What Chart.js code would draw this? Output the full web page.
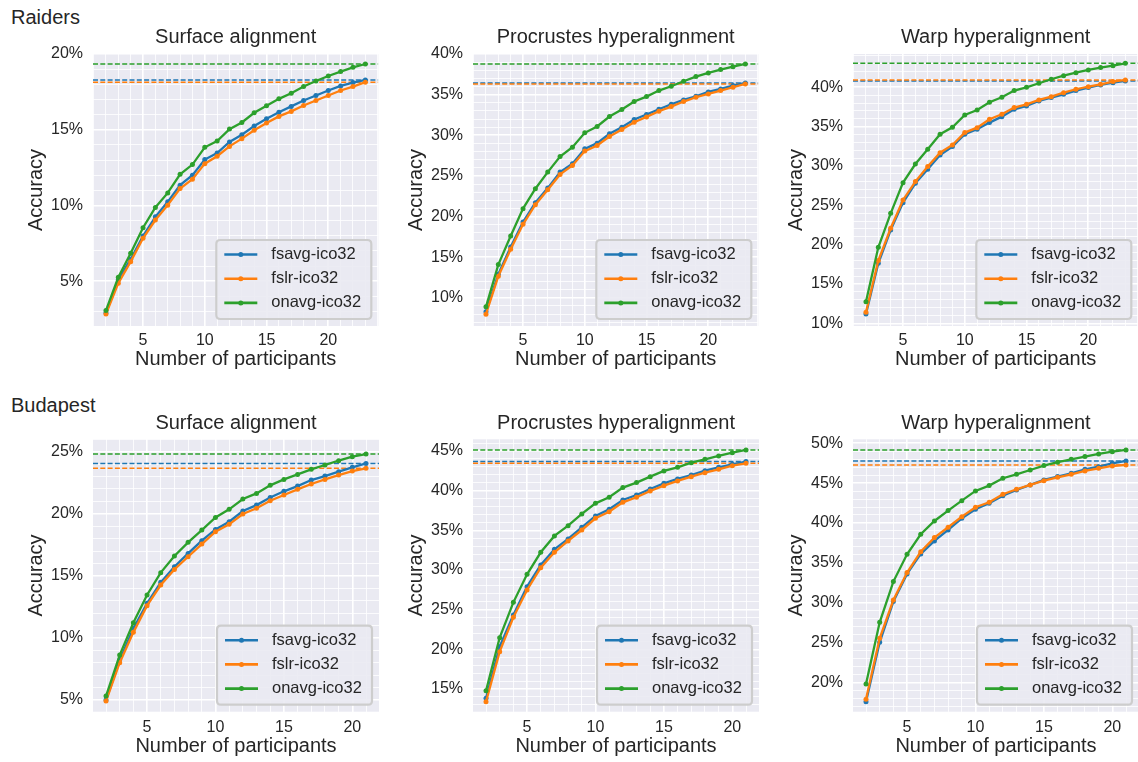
<!DOCTYPE html>
<html>
<head>
<meta charset="utf-8">
<script src="https://cdn.jsdelivr.net/npm/chart.js@4.4.1/dist/chart.umd.min.js"></script>
<style>
html,body{margin:0;padding:0;background:#ffffff;width:1138px;height:762px;overflow:hidden;position:relative}
.row-label{position:absolute;font-family:"Liberation Sans",Arial,sans-serif;font-size:20px;line-height:20px;color:#262626;white-space:nowrap}
</style>
</head>
<body>
<div class="row-label" style="left:11px;top:7px">Raiders</div>
<div class="row-label" style="left:11px;top:395px">Budapest</div>
<script>
// ---------------- DATA ----------------
const seriesNames = ['fsavg-ico32', 'fslr-ico32', 'onavg-ico32'];
const panelTitles = ['Surface alignment', 'Procrustes hyperalignment', 'Warp hyperalignment'];

const raidersParticipants = [2,3,4,5,6,7,8,9,10,11,12,13,14,15,16,17,18,19,20,21,22,23];
const budapestParticipants = [2,3,4,5,6,7,8,9,10,11,12,13,14,15,16,17,18,19,20,21];

const xTicks = [5, 10, 15, 20];

// Raiders - Surface alignment
const raidersSurfaceFsavg = [2.90,5.09,6.45,7.98,9.25,10.24,11.34,12.00,13.03,13.46,14.19,14.67,15.24,15.72,16.16,16.54,16.93,17.26,17.59,17.89,18.11,18.29];
const raidersSurfaceFslr  = [2.83,4.87,6.29,7.83,9.04,10.02,11.12,11.73,12.76,13.25,13.90,14.41,14.96,15.44,15.88,16.21,16.60,16.93,17.26,17.59,17.85,18.14];
const raidersSurfaceOnavg = [3.07,5.26,6.84,8.53,9.87,10.83,12.06,12.70,13.84,14.25,15.04,15.48,16.12,16.58,17.04,17.41,17.85,18.22,18.55,18.84,19.12,19.34];
const raidersSurfaceYTicks = [5, 10, 15, 20];

// Raiders - Procrustes hyperalignment
const raidersProcFsavg = [8.28,12.90,16.26,19.33,21.70,23.50,25.47,26.49,28.33,29.03,30.18,30.99,31.94,32.55,33.20,33.82,34.35,34.80,35.33,35.70,36.11,36.44];
const raidersProcFslr  = [7.99,12.66,15.97,19.04,21.46,23.30,25.18,26.29,28.05,28.74,29.85,30.71,31.61,32.26,32.96,33.53,34.15,34.68,35.09,35.50,35.91,36.32];
const raidersProcOnavg = [8.89,14.09,17.61,20.97,23.42,25.47,27.39,28.54,30.30,31.08,32.30,33.16,34.15,34.76,35.50,36.03,36.64,37.22,37.67,38.08,38.44,38.77];
const raidersProcYTicks = [10, 15, 20, 25, 30, 35, 40];

// Raiders - Warp hyperalignment
const raidersWarpFsavg = [11.19,17.63,21.86,25.34,27.80,29.58,31.40,32.46,34.03,34.66,35.51,36.27,37.20,37.63,38.26,38.69,39.11,39.58,39.96,40.30,40.59,40.81];
const raidersWarpFslr  = [11.40,17.97,22.08,25.68,28.01,29.92,31.69,32.67,34.24,34.87,35.93,36.57,37.42,37.84,38.39,38.81,39.32,39.75,40.08,40.38,40.72,40.93];
const raidersWarpOnavg = [12.75,19.66,23.98,27.88,30.25,32.12,34.03,34.92,36.48,37.12,38.09,38.73,39.58,40.00,40.51,41.02,41.48,41.86,42.20,42.50,42.75,43.05];
const raidersWarpYTicks = [10, 15, 20, 25, 30, 35, 40];

// Budapest - Surface alignment
const budapestSurfaceFsavg = [5.00,8.22,10.77,12.79,14.48,15.74,16.81,17.83,18.74,19.36,20.22,20.70,21.32,21.81,22.23,22.72,23.04,23.39,23.74,24.06];
const budapestSurfaceFslr  = [4.92,8.01,10.45,12.60,14.26,15.52,16.54,17.56,18.56,19.15,19.98,20.44,21.05,21.51,21.97,22.40,22.77,23.12,23.44,23.66];
const budapestSurfaceOnavg = [5.32,8.62,11.23,13.46,15.26,16.60,17.70,18.69,19.71,20.36,21.19,21.64,22.29,22.77,23.17,23.58,23.93,24.28,24.60,24.81];
const budapestSurfaceYTicks = [5, 10, 15, 20, 25];

// Budapest - Procrustes hyperalignment
const budapestProcFsavg = [13.82,20.34,24.33,27.90,30.63,32.61,33.91,35.38,36.81,37.65,38.82,39.45,40.21,40.92,41.47,41.97,42.52,42.94,43.32,43.66];
const budapestProcFslr  = [13.40,19.71,24.03,27.48,30.29,32.23,33.66,35.04,36.51,37.35,38.53,39.16,39.96,40.63,41.22,41.76,42.27,42.69,43.15,43.45];
const budapestProcOnavg = [14.79,21.47,25.92,29.45,32.23,34.29,35.59,37.06,38.40,39.16,40.38,41.01,41.76,42.48,42.94,43.53,43.95,44.37,44.79,45.13];
const budapestProcYTicks = [15, 20, 25, 30, 35, 40, 45];

// Budapest - Warp hyperalignment
const budapestWarpFsavg = [17.57,25.02,30.13,33.60,36.11,37.74,39.12,40.59,41.72,42.47,43.43,44.14,44.77,45.40,45.82,46.23,46.74,47.07,47.49,47.78];
const budapestWarpFslr  = [17.87,25.52,30.33,33.77,36.40,38.16,39.46,40.79,41.97,42.59,43.60,44.23,44.77,45.31,45.73,46.11,46.53,46.86,47.15,47.28];
const budapestWarpOnavg = [19.79,27.53,32.64,36.07,38.58,40.25,41.55,42.80,44.02,44.69,45.61,46.11,46.65,47.20,47.62,47.99,48.33,48.66,48.95,49.16];
const budapestWarpYTicks = [20, 25, 30, 35, 40, 45, 50];

// ---------------- STYLE ----------------
const FONT = '"Liberation Sans", Arial, sans-serif';
const TEXT = '#262626';
const COLORS = ['#1f77b4', '#ff7f0e', '#2ca02c'];
const BG = '#EAEAF2';
Chart.defaults.font.family = FONT;
Chart.defaults.color = TEXT;

const rowLayout = [
  { top: 0,   height: 380, titlePad: {top: 25.2, bottom: 4.8}, xAxisH: 54,   xTickPad: 5.3, xTitlePadB: 9 },
  { top: 380, height: 382, titlePad: {top: 31.8, bottom: 3.5}, xAxisH: 50.3, xTickPad: 5.9, xTitlePadB: 3.6 }
];

const bgPlugin = {
  id: 'plotBg',
  beforeDraw(chart) {
    const {ctx, chartArea: a} = chart;
    ctx.save();
    ctx.fillStyle = BG;
    ctx.fillRect(a.left, a.top, a.right - a.left, a.bottom - a.top);
    ctx.restore();
  }
};

const legendPlugin = {
  id: 'insideLegend',
  afterDatasetsDraw(chart) {
    const {ctx, chartArea: a} = chart;
    const w = 155, h = 79, inset = 7, r = 4;
    const x0 = a.right - inset - w, y0 = a.bottom - inset - h;
    ctx.save();
    ctx.beginPath();
    ctx.moveTo(x0 + r, y0);
    ctx.lineTo(x0 + w - r, y0); ctx.quadraticCurveTo(x0 + w, y0, x0 + w, y0 + r);
    ctx.lineTo(x0 + w, y0 + h - r); ctx.quadraticCurveTo(x0 + w, y0 + h, x0 + w - r, y0 + h);
    ctx.lineTo(x0 + r, y0 + h); ctx.quadraticCurveTo(x0, y0 + h, x0, y0 + h - r);
    ctx.lineTo(x0, y0 + r); ctx.quadraticCurveTo(x0, y0, x0 + r, y0);
    ctx.closePath();
    ctx.fillStyle = 'rgba(234,234,242,0.9)';
    ctx.fill();
    ctx.lineWidth = 2.2;
    ctx.strokeStyle = '#cdcdcd';
    ctx.stroke();
    const items = chart.data.datasets.filter(d => d.inLegend);
    items.forEach((d, i) => {
      const y = y0 + 14.5 + i * 24.2;
      ctx.strokeStyle = d.borderColor;
      ctx.lineWidth = 2.6;
      ctx.beginPath(); ctx.moveTo(x0 + 8, y); ctx.lineTo(x0 + 41, y); ctx.stroke();
      ctx.fillStyle = d.borderColor;
      ctx.beginPath(); ctx.arc(x0 + 24.5, y, 2.5, 0, Math.PI * 2); ctx.fill();
      ctx.fillStyle = TEXT;
      ctx.font = '16.5px ' + FONT;
      ctx.textBaseline = 'middle';
      ctx.textAlign = 'left';
      ctx.fillText(d.label, x0 + 55, y);
    });
    ctx.restore();
  }
};

function integerTicks(scale) {
  const t = [];
  for (let v = Math.ceil(scale.min - 1e-9); v <= Math.floor(scale.max + 1e-9); v++) t.push({value: v});
  scale.ticks = t;
}

function makePanel(row, col, title, xs, seriesList, xRange, yRange, yTicks) {
  const L = rowLayout[row];
  const canvas = document.createElement('canvas');
  const W = 383, H = L.height;
  canvas.width = W; canvas.height = H;
  canvas.style.cssText = `position:absolute;left:${col * 380}px;top:${L.top}px;width:${W}px;height:${H}px`;
  document.body.appendChild(canvas);

  const datasets = [];
  seriesList.forEach((vals, i) => {
    datasets.push({
      label: seriesNames[i],
      inLegend: true,
      data: xs.map((x, k) => ({x: x, y: vals[k]})),
      borderColor: COLORS[i],
      backgroundColor: COLORS[i],
      pointBackgroundColor: COLORS[i],
      borderWidth: 2.3,
      pointRadius: 2.5,
      pointBorderWidth: 0,
      tension: 0,
      order: 10 - i
    });
  });
  seriesList.forEach((vals, i) => {
    const last = vals[vals.length - 1];
    datasets.push({
      label: seriesNames[i] + ' final',
      inLegend: false,
      data: [{x: xRange[0], y: last}, {x: xRange[1], y: last}],
      borderColor: COLORS[i],
      borderWidth: 1.5,
      borderDash: [5, 2.3],
      pointRadius: 0,
      tension: 0,
      order: 20 - i
    });
  });

  new Chart(canvas, {
    type: 'line',
    data: { datasets },
    plugins: [bgPlugin, legendPlugin],
    options: {
      responsive: false,
      animation: false,
      events: [],
      devicePixelRatio: 1,
      layout: { padding: 0 },
      plugins: {
        legend: { display: false },
        tooltip: { enabled: false },
        title: {
          display: true, text: title, fullSize: false, color: TEXT,
          font: { size: 20, weight: 'normal', family: FONT },
          padding: L.titlePad
        }
      },
      scales: {
        x: {
          type: 'linear', min: xRange[0], max: xRange[1],
          afterBuildTicks: integerTicks,
          afterFit: s => { s.height = L.xAxisH; },
          grid: { color: '#ffffff', drawTicks: false,
                  lineWidth: c => (c.tick && xTicks.includes(c.tick.value)) ? 1.6 : 0.8 },
          border: { display: false },
          ticks: { autoSkip: false, maxRotation: 0, padding: L.xTickPad, color: TEXT,
                   font: { size: 16, family: FONT },
                   callback: v => xTicks.includes(v) ? String(v) : '' },
          title: { display: true, text: 'Number of participants', color: TEXT,
                   font: { size: 20, family: FONT }, padding: { top: 0, bottom: L.xTitlePadB } }
        },
        y: {
          type: 'linear', min: yRange[0], max: yRange[1],
          afterBuildTicks: integerTicks,
          afterFit: s => { s.width = 93; },
          grid: { color: '#ffffff', drawTicks: false,
                  lineWidth: c => (c.tick && yTicks.includes(c.tick.value)) ? 1.6 : 0.8 },
          border: { display: false },
          ticks: { autoSkip: false, padding: 10, color: TEXT,
                   font: { size: 16, family: FONT },
                   callback: v => yTicks.includes(v) ? v + '%' : '' },
          title: { display: true, text: 'Accuracy', color: TEXT,
                   font: { size: 20, family: FONT }, padding: { top: 24.7, bottom: 0 } }
        }
      }
    }
  });
}

const raidersX = [0.95, 24.05];
const budapestX = [1.05, 21.95];

makePanel(0, 0, panelTitles[0], raidersParticipants,
  [raidersSurfaceFsavg, raidersSurfaceFslr, raidersSurfaceOnavg], raidersX, [2.04, 20.0], raidersSurfaceYTicks);
makePanel(0, 1, panelTitles[1], raidersParticipants,
  [raidersProcFsavg, raidersProcFslr, raidersProcOnavg], raidersX, [6.53, 40.0], raidersProcYTicks);
makePanel(0, 2, panelTitles[2], raidersParticipants,
  [raidersWarpFsavg, raidersWarpFslr, raidersWarpOnavg], raidersX, [9.66, 44.23], raidersWarpYTicks);
makePanel(1, 0, panelTitles[0], budapestParticipants,
  [budapestSurfaceFsavg, budapestSurfaceFslr, budapestSurfaceOnavg], budapestX, [4.06, 26.0], budapestSurfaceYTicks);
makePanel(1, 1, panelTitles[1], budapestParticipants,
  [budapestProcFsavg, budapestProcFslr, budapestProcOnavg], budapestX, [12.14, 46.47], budapestProcYTicks);
makePanel(1, 2, panelTitles[2], budapestParticipants,
  [budapestWarpFsavg, budapestWarpFslr, budapestWarpOnavg], budapestX, [16.31, 50.5], budapestWarpYTicks);
</script>
</body>
</html>
